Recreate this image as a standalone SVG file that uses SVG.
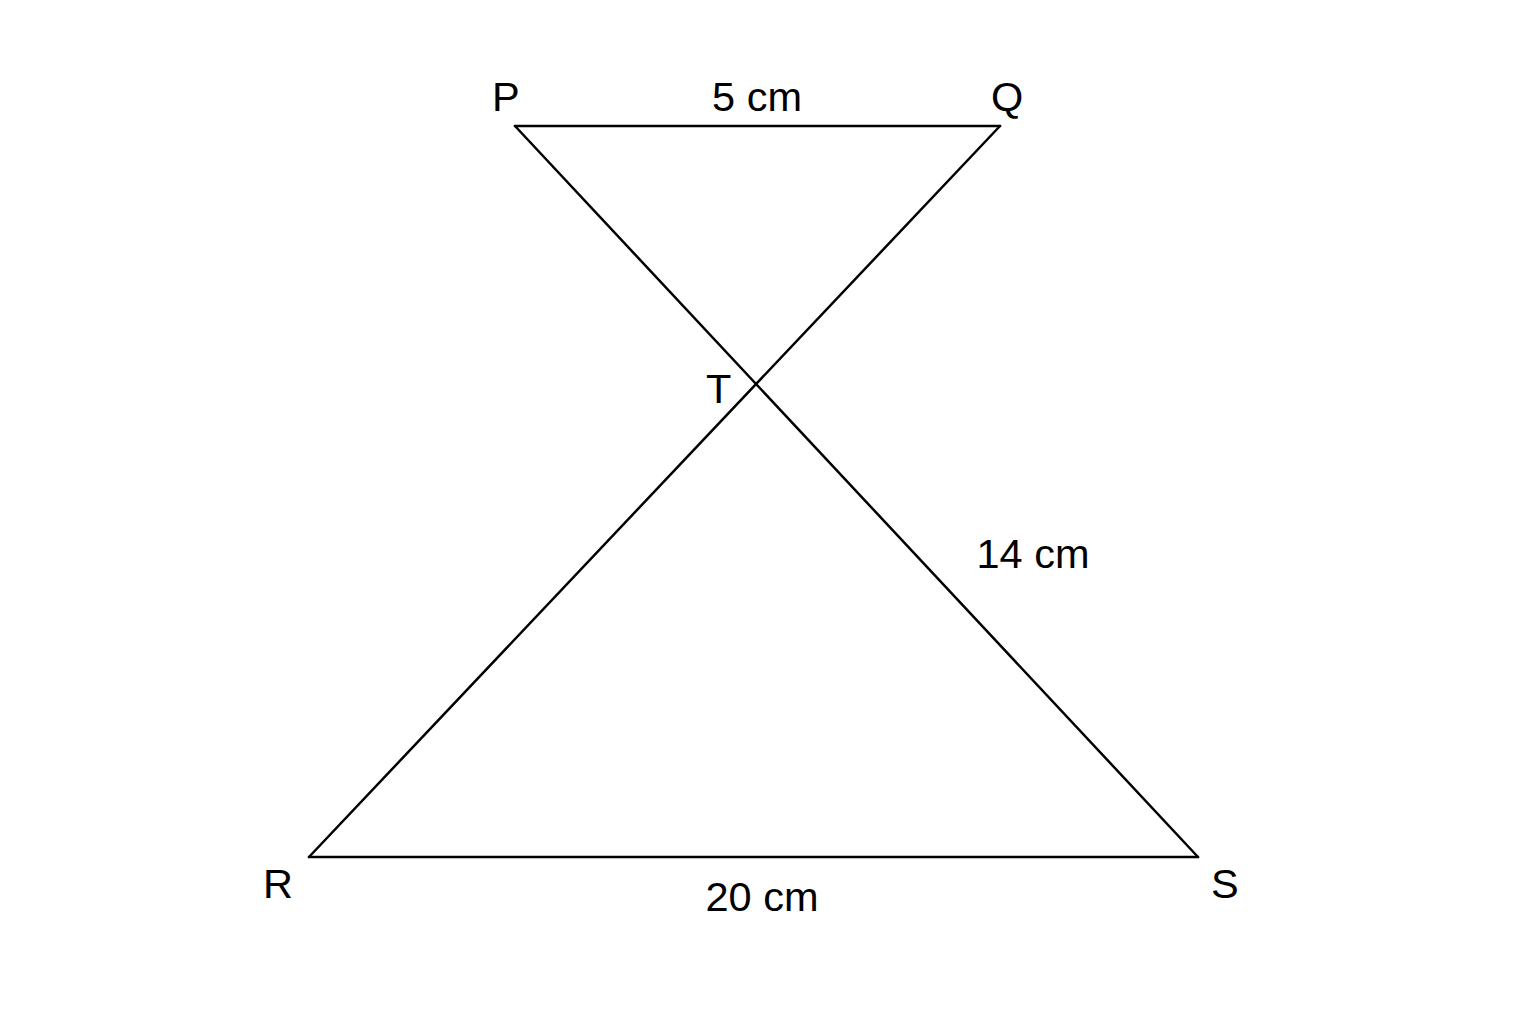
<svg xmlns="http://www.w3.org/2000/svg" width="1536" height="1024" viewBox="0 0 1536 1024">
<style>
.edge{stroke:#000;stroke-width:2.5;fill:none;stroke-linecap:round}
.lbl{font-family:"Liberation Sans",Arial,sans-serif;font-size:41.5px;fill:#000}
</style>
<rect width="1536" height="1024" fill="#fff"/>
<g id="connectors">
<line class="edge" x1="515" y1="126" x2="1000" y2="126"/>
<line class="edge" x1="309" y1="857" x2="1198" y2="857"/>
<line class="edge" x1="515" y1="126" x2="1198" y2="857"/>
<line class="edge" x1="1000" y1="126" x2="309" y2="857"/>
</g>
<g id="node-P"><text class="lbl" x="492" y="111">P</text></g>
<g id="node-Q"><text class="lbl" x="991" y="111">Q</text></g>
<g id="node-T"><text class="lbl" x="706" y="403">T</text></g>
<g id="node-R"><text class="lbl" x="263" y="898">R</text></g>
<g id="node-S"><text class="lbl" x="1211" y="898">S</text></g>
<g id="labels">
<text class="lbl" x="757" y="111" text-anchor="middle">5 cm</text>
<text class="lbl" x="1033" y="568" text-anchor="middle">14 cm</text>
<text class="lbl" x="762" y="911" text-anchor="middle">20 cm</text>
</g>
</svg>
